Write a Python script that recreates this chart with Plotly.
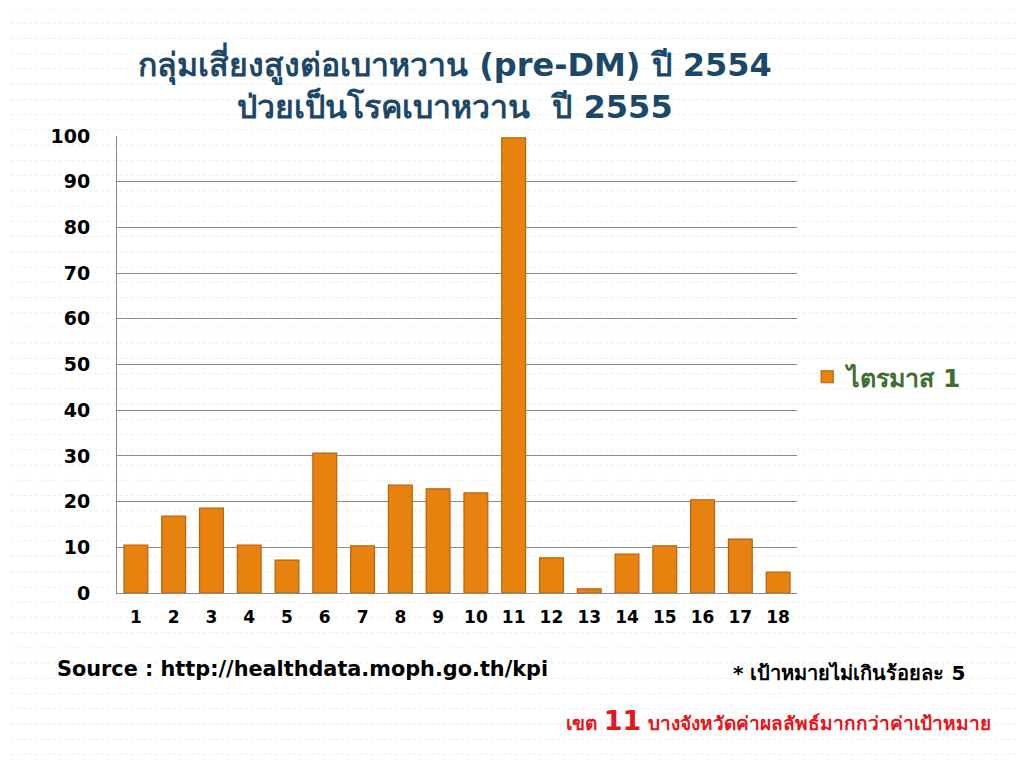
import plotly.graph_objects as go

categories = [str(i) for i in range(1, 19)]
values = [10.5, 16.8, 18.6, 10.5, 7.2, 30.6, 10.3, 23.6, 22.8, 21.9,
          99.6, 7.7, 0.9, 8.5, 10.3, 20.4, 11.8, 4.6]
series_name = "ไตรมาส 1"
y_ticks = list(range(0, 101, 10))

title_text = "กลุ่มเสี่ยงสูงต่อเบาหวาน (pre-DM) ปี 2554<br>ป่วยเป็นโรคเบาหวาน  ปี 2555"
source_text = "Source : http://healthdata.moph.go.th/kpi"
target_text = "* เป้าหมายไม่เกินร้อยละ 5"
note_text = "เขต <span style='font-size:27px'>11</span> บางจังหวัดค่าผลลัพธ์มากกว่าค่าเป้าหมาย"

FONT = "Tahoma, 'DejaVu Sans', 'Noto Sans', sans-serif"

# plot area in page pixels: x 117..797, y 136..593
PX0, PX1, PY0, PY1 = 117, 797, 136, 593


def px(x):
    return (x - PX0) / (PX1 - PX0)


def py(y):
    return (PY1 - y) / (PY1 - PY0)


fig = go.Figure()
fig.add_trace(go.Bar(
    x=categories, y=values, name=series_name,
    marker=dict(color="#E8820E", line=dict(color="#B8620A", width=1.2)),
    showlegend=True,
))

# faint dotted background lines
shapes = []
for i in range(0, 52):
    yy = -0.42 + i * (1.7 / 51)
    shapes.append(dict(type="line", xref="paper", yref="paper", x0=-0.2, x1=1.5,
                       y0=yy, y1=yy, layer="below",
                       line=dict(color="#EDEDED", width=1, dash="dot")))

fig.update_layout(
    width=1024, height=768,
    paper_bgcolor="white", plot_bgcolor="rgba(0,0,0,0)",
    margin=dict(l=PX0 - 8, r=1024 - (PX1 - 8), t=PY0 - 8, b=768 - (PY1 - 8)),
    bargap=0.37,
    font=dict(family=FONT),
    legend=dict(x=1.015, y=py(377), xanchor="left", yanchor="middle",
                font=dict(size=25, color="#3C6E2E", family=FONT, weight="bold"),
                bgcolor="rgba(0,0,0,0)"),
    xaxis=dict(type="category", showgrid=False, showline=True, linecolor="#888888",
               tickfont=dict(size=17, color="black", family=FONT, weight="bold"),
               ticks="", ticklabelstandoff=9),
    yaxis=dict(range=[0, 100], tickvals=y_ticks, showgrid=True, gridcolor="#8C8C8C",
               gridwidth=1, showline=True, linecolor="#888888", zeroline=False,
               tickfont=dict(size=19, color="black", family=FONT, weight="bold"),
               ticks="", ticklabelstandoff=22),
    shapes=shapes,
    annotations=[
        dict(text=title_text, xref="paper", yref="paper", x=px(455), y=py(84),
             xanchor="center", yanchor="middle", showarrow=False,
             font=dict(size=32, color="#1B4868", family=FONT, weight="bold")),
        dict(text=source_text, xref="paper", yref="paper", x=px(55), y=py(669),
             xanchor="left", yanchor="middle", showarrow=False,
             font=dict(size=20.8, color="black", family=FONT, weight="bold")),
        dict(text=target_text, xref="paper", yref="paper", x=px(967), y=py(673),
             xanchor="right", yanchor="middle", showarrow=False,
             font=dict(size=20, color="black", family=FONT, weight="bold")),
        dict(text=note_text, xref="paper", yref="paper", x=px(993), y=py(720),
             xanchor="right", yanchor="middle", showarrow=False,
             font=dict(size=19, color="#E8141B", family=FONT, weight="bold")),
    ],
)

fig.write_html("out.html")
